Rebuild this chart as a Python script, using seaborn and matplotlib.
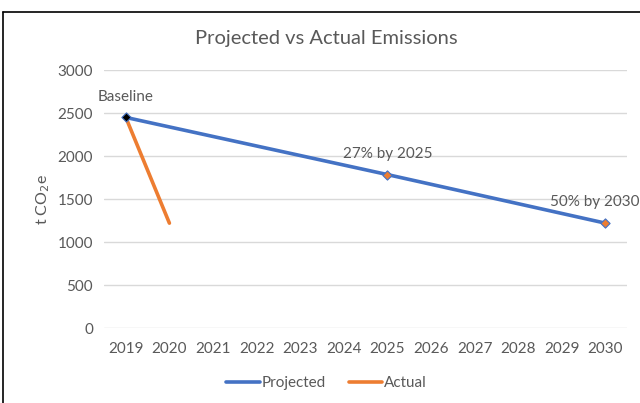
import numpy as np
import pandas as pd
import matplotlib
matplotlib.use("Agg")
import matplotlib.pyplot as plt
import seaborn as sns
from matplotlib.lines import Line2D

years = list(range(2019, 2031))
proj_years = [2019, 2025, 2030]
proj_values = [2450, 1785, 1220]
actual_years = [2019, 2020]
actual_values = [2450, 1220]
point_labels = ["Baseline", "27% by 2025", "50% by 2030"]
yticks = [0, 500, 1000, 1500, 2000, 2500, 3000]

BLUE = "#4472C4"
ORANGE = "#ED7D31"
GREY = "#595959"

sns.set_theme(style="white")
plt.rcParams['font.family'] = ['Lato', 'DejaVu Sans']

fig = plt.figure(figsize=(6.4, 4.03), dpi=100)
ax = fig.add_axes([0.1625, 0.186, 0.8175, 0.64])

df_p = pd.DataFrame({"year": proj_years, "value": proj_values, "series": "Projected"})
df_a = pd.DataFrame({"year": actual_years, "value": actual_values, "series": "Actual"})
df = pd.concat([df_p, df_a], ignore_index=True)

sns.lineplot(data=df, x="year", y="value", hue="series",
             palette={"Projected": BLUE, "Actual": ORANGE},
             hue_order=["Projected", "Actual"], linewidth=2.6, ax=ax, legend=False,
             sort=False)

# markers
ax.scatter([proj_years[0]], [proj_values[0]], marker="D", s=22, color="black",
           edgecolor=BLUE, linewidth=0.8, zorder=5)
ax.scatter(proj_years[1:], proj_values[1:], marker="D", s=22, color=ORANGE,
           edgecolor=BLUE, linewidth=0.8, zorder=5)

# labels
offsets = [(0, 10, "center"), (0, 10, "center"), (-8, 10, "center")]
for (x, y, lab, (dx, dy, ha)) in zip(proj_years, proj_values, point_labels, offsets):
    ax.annotate(lab, (x, y), xytext=(dx, dy), textcoords="offset points",
                ha=ha, va="bottom", fontsize=11, color=GREY)

ax.set_xlim(2018.5, 2030.5)
ax.set_ylim(0, 3000)
ax.set_xticks(years)
ax.set_xticklabels([str(y) for y in years])
ax.set_yticks(yticks)
ax.tick_params(axis="both", length=0, labelsize=11, colors=GREY, pad=8)
ax.tick_params(axis="x", pad=10)
ax.yaxis.grid(True, color="#D9D9D9", linewidth=1)
ax.xaxis.grid(False)
for s in ax.spines.values():
    s.set_visible(False)
ax.set_xlabel("")
ax.set_ylabel("t CO$_2$e", fontsize=11.5, color=GREY, labelpad=4)

fig.text(0.51, 0.905, "Projected vs Actual Emissions", ha="center", va="center",
         fontsize=14.5, color=GREY)

handles = [Line2D([0], [0], color=BLUE, lw=2.6), Line2D([0], [0], color=ORANGE, lw=2.6)]
fig.legend(handles, ["Projected", "Actual"], loc="center", bbox_to_anchor=(0.51, 0.05),
           ncol=2, frameon=False, fontsize=11, handlelength=2.2, handletextpad=0.1,
           columnspacing=1.5, labelcolor=GREY)

# outer border (top and left)
fig.add_artist(Line2D([0.004, 0.004], [0, 0.97], color="black", lw=1.2, transform=fig.transFigure))
fig.add_artist(Line2D([0.004, 1.0], [0.97, 0.97], color="black", lw=1.2, transform=fig.transFigure))

fig.savefig("out.png", dpi=100)
